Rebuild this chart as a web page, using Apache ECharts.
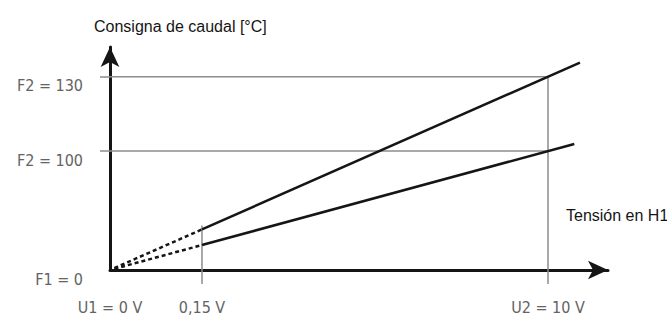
<!DOCTYPE html>
<html>
<head>
<meta charset="utf-8">
<script src="https://cdn.jsdelivr.net/npm/echarts@6/dist/echarts.min.js"></script>
<style>
  html, body { margin: 0; padding: 0; background: #fff; }
  #chart { width: 667px; height: 320px; }
</style>
</head>
<body>
<div id="chart"></div>
<script>
// schematic positions (the drawing is not to scale)
const xTickPos = [0, 2.1, 10];
const xTickLabels = ['U1 = 0 V', '0,15 V', 'U2 = 10 V'];
const yTickPos = [0, 80, 130];
const yTickLabels = ['F1 = 0', 'F2 = 100', 'F2 = 130'];

const upperDashed = [[0.1, 1.3], [2.1, 27.3]];
const upperSolid = [[2.1, 27.3], [10.73, 139.5]];
const lowerDashed = [[0.1, 0.8], [2.1, 16.8]];
const lowerSolid = [[2.1, 16.8], [10.6, 84.8]];

const guide130 = [[0, 130], [10, 130]];
const guide100 = [[0, 80], [10, 80]];
const guideU2 = [[10, 0], [10, 130]];
const guideU015 = [[2.1, 0], [2.1, 30]];

const labelFont = "'DejaVu Sans Condensed', 'Liberation Sans', sans-serif";
const textFont = "'Liberation Sans', Arial, sans-serif";
const guideColor = '#8c8c8c';
const inkColor = '#151515';
const labelColor = '#636363';

function labelFor(positions, labels) {
  return (value) => {
    const i = positions.findIndex((p) => Math.abs(p - value) < 1e-6);
    return i >= 0 ? labels[i] : '';
  };
}

function guide(data) {
  return {
    type: 'line', data, showSymbol: false, silent: true,
    lineStyle: { color: guideColor, width: 1.5 }, z: 1,
  };
}

function stroke(data, dashed) {
  return {
    type: 'line', data, showSymbol: false, silent: true,
    lineStyle: { color: inkColor, width: 2.5, type: dashed ? [4, 3] : 'solid', cap: 'butt' },
    z: 3,
  };
}

const chart = echarts.init(document.getElementById('chart'), null, { renderer: 'svg' });
chart.setOption({
  animation: false,
  backgroundColor: '#fff',
  title: [
    { text: 'Consigna de caudal [°C]', left: 89, top: 13,
      textStyle: { fontFamily: textFont, fontSize: 16, fontWeight: 'normal', color: inkColor } },
    { text: 'Tensión en H1', left: 561, top: 202,
      textStyle: { fontFamily: textFont, fontSize: 16, fontWeight: 'normal', color: inkColor } },
  ],
  grid: { left: 110, right: 59, top: 47, bottom: 50 },
  xAxis: {
    type: 'value', min: 0, max: 11.37,
    axisLine: { show: true, symbol: ['none', 'arrow'], symbolSize: [14, 20],
      lineStyle: { color: inkColor, width: 3 } },
    axisTick: { show: true, customValues: [2.1, 10], length: 14,
      lineStyle: { color: guideColor, width: 1.5 } },
    axisLabel: { customValues: xTickPos, formatter: labelFor(xTickPos, xTickLabels),
      margin: 29, fontFamily: labelFont, fontSize: 16, color: labelColor },
    splitLine: { show: false },
  },
  yAxis: {
    type: 'value', min: 0, max: 150,
    axisLine: { show: true, symbol: ['none', 'arrow'], symbolSize: [14, 20],
      lineStyle: { color: inkColor, width: 3 } },
    axisTick: { show: true, customValues: [80, 130], length: 10,
      lineStyle: { color: guideColor, width: 1.5 } },
    axisLabel: { customValues: yTickPos, formatter: labelFor(yTickPos, yTickLabels),
      margin: 27, verticalAlign: 'top', padding: [1, 0, 0, 0],
      fontFamily: labelFont, fontSize: 16, color: labelColor },
    splitLine: { show: false },
  },
  series: [
    guide(guide130), guide(guide100), guide(guideU2), guide(guideU015),
    stroke(upperDashed, true), stroke(lowerDashed, true),
    stroke(upperSolid, false), stroke(lowerSolid, false),
  ],
});
</script>
</body>
</html>
